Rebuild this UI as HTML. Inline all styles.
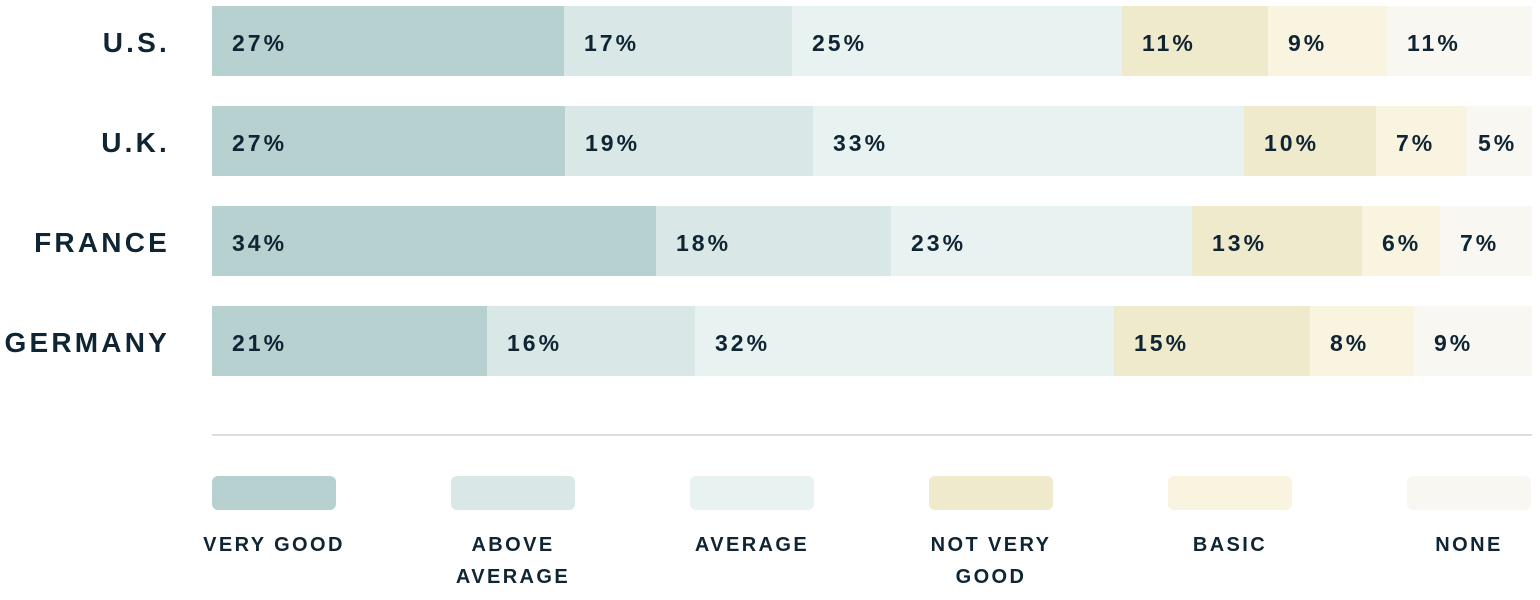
<!DOCTYPE html>
<html><head><meta charset="utf-8"><style>
body{margin:0;width:1540px;height:600px;background:#fff;position:relative;overflow:hidden;font-family:"Liberation Sans",sans-serif;color:#0f2533;font-weight:bold}
.r{position:absolute;right:1370px;font-size:28px;letter-spacing:3.2px;line-height:74px;text-align:right;white-space:nowrap}
.s{position:absolute;height:70px;line-height:74px;font-size:23px;letter-spacing:3px;box-sizing:border-box;padding-left:20px;white-space:nowrap}
.c1{background:#b7d1d1}.c2{background:#d9e8e7}.c3{background:#e8f2f1}.c4{background:#f0eacd}.c5{background:#f8f4df}.c6{background:#f8f7f1}
.sw{position:absolute;top:476px;width:124px;height:34px;border-radius:6px}
.lb{position:absolute;top:529px;width:200px;text-align:center;font-size:20px;letter-spacing:2.4px;line-height:32px}
</style></head><body>
<div class="r" style="top:6px">U.S.</div>
<div class="r" style="top:106px">U.K.</div>
<div class="r" style="top:206px">FRANCE</div>
<div class="r" style="top:306px">GERMANY</div>

<div class="s c1" style="top:6px;left:212px;width:352px">27%</div>
<div class="s c2" style="top:6px;left:564px;width:228px">17%</div>
<div class="s c3" style="top:6px;left:792px;width:330px">25%</div>
<div class="s c4" style="top:6px;left:1122px;width:146px">11%</div>
<div class="s c5" style="top:6px;left:1268px;width:119px">9%</div>
<div class="s c6" style="top:6px;left:1387px;width:145px">11%</div>

<div class="s c1" style="top:106px;left:212px;width:353px">27%</div>
<div class="s c2" style="top:106px;left:565px;width:248px">19%</div>
<div class="s c3" style="top:106px;left:813px;width:431px">33%</div>
<div class="s c4" style="top:106px;left:1244px;width:132px">10%</div>
<div class="s c5" style="top:106px;left:1376px;width:90px">7%</div>
<div class="s c6" style="top:106px;left:1466px;width:66px;padding-left:12px">5%</div>

<div class="s c1" style="top:206px;left:212px;width:444px">34%</div>
<div class="s c2" style="top:206px;left:656px;width:235px">18%</div>
<div class="s c3" style="top:206px;left:891px;width:301px">23%</div>
<div class="s c4" style="top:206px;left:1192px;width:170px">13%</div>
<div class="s c5" style="top:206px;left:1362px;width:78px">6%</div>
<div class="s c6" style="top:206px;left:1440px;width:92px">7%</div>

<div class="s c1" style="top:306px;left:212px;width:275px">21%</div>
<div class="s c2" style="top:306px;left:487px;width:208px">16%</div>
<div class="s c3" style="top:306px;left:695px;width:419px">32%</div>
<div class="s c4" style="top:306px;left:1114px;width:196px">15%</div>
<div class="s c5" style="top:306px;left:1310px;width:104px">8%</div>
<div class="s c6" style="top:306px;left:1414px;width:118px">9%</div>

<div style="position:absolute;top:434px;left:212px;width:1320px;height:2px;background:#d9dfe1"></div>

<div class="sw c1" style="left:212px"></div>
<div class="sw c2" style="left:451px"></div>
<div class="sw c3" style="left:690px"></div>
<div class="sw c4" style="left:929px"></div>
<div class="sw c5" style="left:1168px"></div>
<div class="sw c6" style="left:1407px"></div>
<div class="lb" style="left:174px">VERY GOOD</div>
<div class="lb" style="left:413px">ABOVE<br>AVERAGE</div>
<div class="lb" style="left:652px">AVERAGE</div>
<div class="lb" style="left:891px">NOT VERY<br>GOOD</div>
<div class="lb" style="left:1130px">BASIC</div>
<div class="lb" style="left:1369px">NONE</div>
</body></html>
